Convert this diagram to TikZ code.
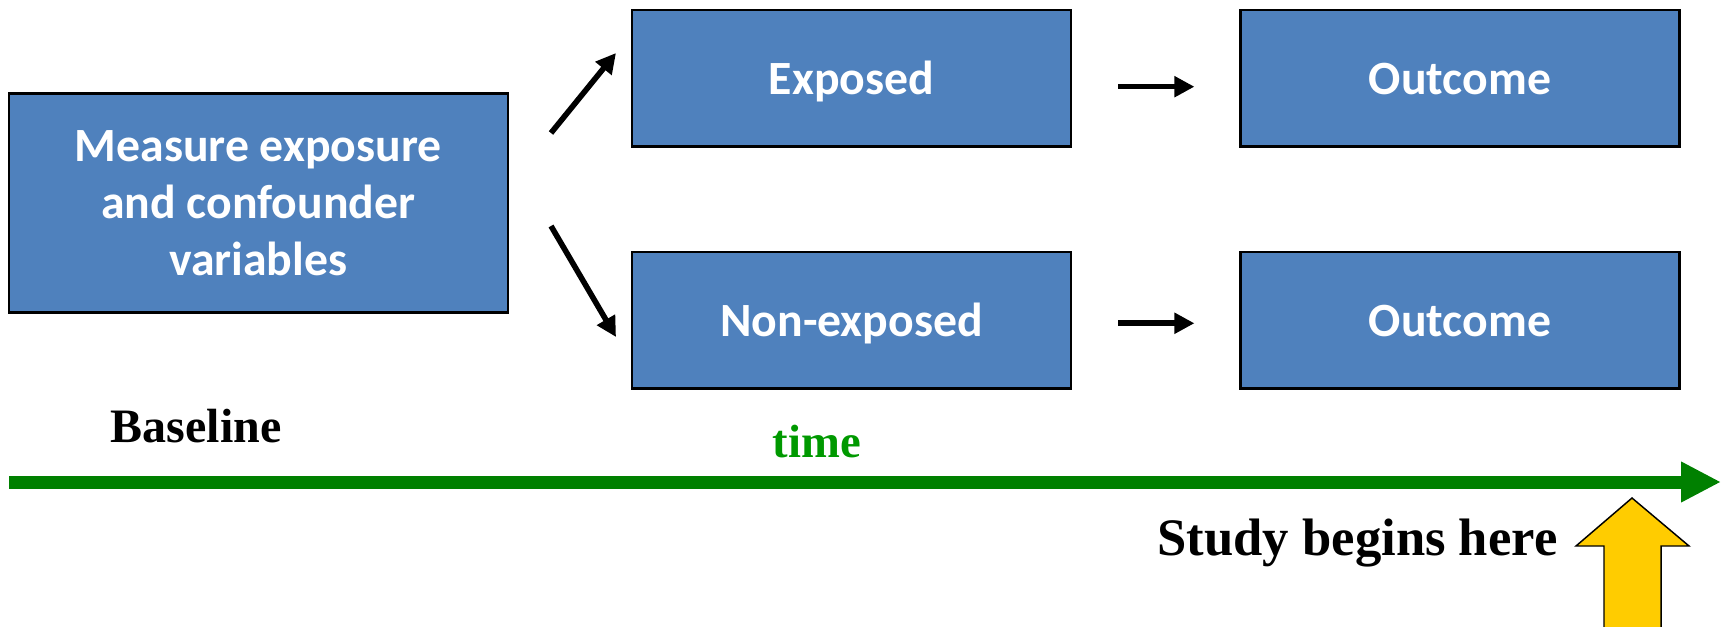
\documentclass[tikz,border=0pt]{standalone}
\usepackage{fontspec}
\setmainfont{Liberation Serif}
\newfontfamily\boxfont{Carlito}
\usetikzlibrary{arrows.meta}
\definecolor{boxblue}{HTML}{4F81BD}
\definecolor{linegreen}{HTML}{008000}
\definecolor{timegreen}{HTML}{009900}
\definecolor{markyellow}{HTML}{FFCC00}

\begin{document}
\begin{tikzpicture}[x=0.75pt,y=-0.75pt,
  stage/.style={draw=black, line width=1.6pt, fill=boxblue, text=white,
    font=\boxfont\bfseries\fontsize{35.8}{42.75}\selectfont,
    align=center, inner sep=0pt},
  wide/.style={minimum width=329.25pt, minimum height=102.4pt,
    text height=34pt, text depth=10pt},
  link/.style={line width=4.2pt, -{Triangle[length=15pt,width=15pt]}},
  timeline/.style={draw=linegreen, line width=9.75pt,
    -{Triangle[length=30pt,width=28.5pt]}},
  caption/.style={anchor=base, inner sep=0pt, font=\bfseries\fontsize{36}{43}\selectfont}
]
\useasboundingbox (0,0) rectangle (1725,627);

% boxes
\node[stage, minimum width=374.25pt, minimum height=164.25pt] (meas) at (258.2,203)
  {Measure exposure\\and confounder\\variables};
\node[stage, wide] (exp) at (851.5,78.3) {Exposed};
\node[stage, wide] (nonexp) at (851.5,320.2) {Non-exposed};
\node[stage, wide] (out1) at (1460,78.3) {Outcome};
\node[stage, wide] (out2) at (1460,320.2) {Outcome};

% branching arrows
\coordinate (up0) at (551,133);
\coordinate (up1) at (616,53);
\coordinate (dn0) at (551,226);
\coordinate (dn1) at (616,337);
\draw[link] (up0) -- (up1);
\draw[link] (dn0) -- (dn1);

% follow-up arrows
\draw[link, shorten <=34.5pt, shorten >=33.75pt] ([yshift=-6.3pt]exp.east) -- ([yshift=-6.3pt]out1.west);
\draw[link, shorten <=34.5pt, shorten >=33.75pt] ([yshift=-2.3pt]nonexp.east) -- ([yshift=-2.3pt]out2.west);

% time axis
\coordinate (t0) at (9,482);
\coordinate (t1) at (1721,482);
\draw[timeline] (t0) -- (t1);

\node[caption] (baseline) at (196,442) {Baseline};
\node[caption, text=timegreen, font=\bfseries\fontsize{35}{42}\selectfont] (time) at (817,457) {time};
\node[caption, font=\bfseries\fontsize{39.5}{47}\selectfont] (study) at (1357.5,555) {Study begins here};

% marker arrow
\fill[markyellow] (1604,627) -- (1604,546) -- (1576,546) -- (1632,498) -- (1689,546)
  -- (1661,546) -- (1661,627) -- cycle;
\draw[line width=1.1pt, line join=miter] (1604,627) -- (1604,546) -- (1576,546)
  -- (1632,498) -- (1689,546) -- (1661,546) -- (1661,627);
\end{tikzpicture}
\end{document}
